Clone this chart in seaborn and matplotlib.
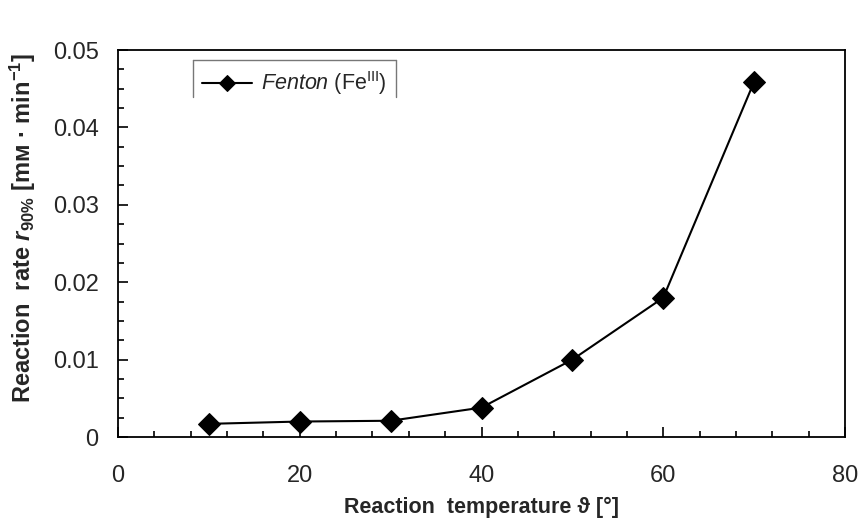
import matplotlib
matplotlib.use("Agg")
import matplotlib.pyplot as plt
import seaborn as sns
import pandas as pd
from matplotlib.ticker import MultipleLocator
from matplotlib.lines import Line2D

temperature = [10, 20, 30, 40, 50, 60, 70]
rate = [0.0017, 0.0020, 0.0021, 0.0038, 0.0100, 0.0180, 0.0459]
series_label = r"$\mathit{Fenton}$ (Fe$^{\mathrm{III}}$)"
y_ticks = [0, 0.01, 0.02, 0.03, 0.04, 0.05]
y_ticklabels = ["0", "0.01", "0.02", "0.03", "0.04", "0.05"]

sns.set_style("ticks")
plt.rcParams['font.family'] = ['Liberation Sans', 'DejaVu Sans']
plt.rcParams['mathtext.fontset'] = 'custom'
plt.rcParams['mathtext.rm'] = 'Liberation Sans'
plt.rcParams['mathtext.it'] = 'Liberation Sans:italic'
plt.rcParams['mathtext.bf'] = 'Liberation Sans:bold'
try:
    plt.rcParams['mathtext.bfit'] = 'Liberation Sans:bold:italic'
except Exception:
    pass

df = pd.DataFrame({"T": temperature, "r": rate})

fig = plt.figure(figsize=(8.59, 5.2), dpi=100)
ax = fig.add_axes([0.1374, 0.1596, 0.8463, 0.7442])
sns.lineplot(data=df, x="T", y="r", ax=ax, color="black", marker="D",
             markersize=11, markeredgecolor="black", linewidth=1.5, label=series_label)

ax.set_xlim(0, 80)
ax.set_ylim(0, 0.05)
ax.xaxis.set_major_locator(MultipleLocator(20))
ax.xaxis.set_minor_locator(MultipleLocator(4))
ax.yaxis.set_minor_locator(MultipleLocator(0.0025))
ax.set_yticks(y_ticks)
ax.set_yticklabels(y_ticklabels)
ax.tick_params(which="both", direction="in", color="black", width=1.2)
ax.tick_params(which="major", length=7, labelsize=17)
ax.tick_params(axis="x", which="major", pad=20)
ax.tick_params(axis="y", which="major", pad=14)
ax.tick_params(which="minor", length=4)
for s in ax.spines.values():
    s.set_color("black")
    s.set_linewidth(1.3)

ax.set_xlabel("Reaction  temperature ϑ [°]", fontsize=15.5, fontweight="bold", labelpad=7)
ax.set_ylabel(r"Reaction  rate $\mathbfit{r}_{\mathbf{90\%}}$ [mᴍ · min$^{\mathbf{-1}}$]",
              fontsize=17, fontweight="bold")
ax.yaxis.set_label_coords(-0.11, 0.54)

leg = ax.legend(loc="upper left", bbox_to_anchor=(0.088, 1.003), fontsize=15.5,
                frameon=False, handlelength=2.3, handletextpad=0.4, borderpad=0.45,
                markerscale=0.75)

# partial legend frame (left, top, right), like the reference
fig.canvas.draw()
bb = leg.get_window_extent().transformed(fig.transFigure.inverted())
kw = dict(color="#777777", linewidth=1.0, transform=fig.transFigure)
fig.add_artist(Line2D([bb.x0, bb.x0], [bb.y0 + 0.02, bb.y1], **kw))
fig.add_artist(Line2D([bb.x0, bb.x1], [bb.y1, bb.y1], **kw))
fig.add_artist(Line2D([bb.x1, bb.x1], [bb.y0 + 0.02, bb.y1], **kw))

fig.savefig("out.png", dpi=100)
